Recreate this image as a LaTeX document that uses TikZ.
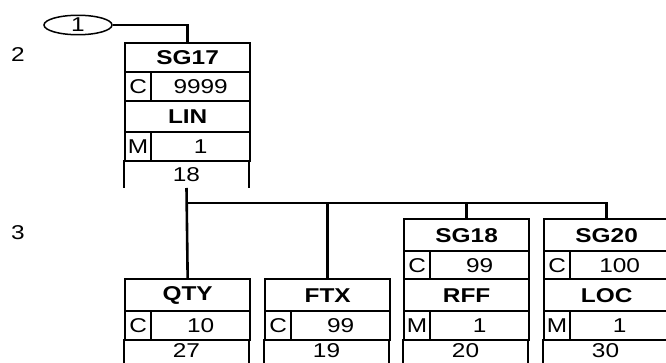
\documentclass[tikz,border=0pt]{standalone}
\usepackage{fontspec}
\setmainfont[FakeStretch=1.22]{Liberation Sans}
\usetikzlibrary{shapes.geometric}

\begin{document}
\begin{tikzpicture}[
    x=1pt,
    y=-1pt,
    font=\fontsize{20}{23}\selectfont,
    cell/.style={draw=black, line width=2.3pt, inner sep=0pt,
                 anchor=north west},
    hdr/.style={cell, minimum width=125pt, font=\fontsize{20}{23}\selectfont\bfseries},
    stat/.style={cell, minimum width=26pt},
    rep/.style={cell, minimum width=99pt},
    num/.style={inner sep=0pt},
    link/.style={draw=black, line width=2.6pt},
    side/.style={draw=black, line width=2.3pt}
]
\useasboundingbox (0,0) rectangle (666,363);
\clip (0,0) rectangle (666,363);

% Level numbers on the left
\node[num] (lvltwo) at (18,55) {2};
\node[num] (lvlthree) at (18,233) {3};

% Entry point
\node[ellipse, draw=black, line width=1.5pt, minimum width=68pt,
      minimum height=19pt, inner sep=0pt] (start) at (78,25) {1};

% Group 17 with its trigger segment
\node[hdr, minimum height=29pt] (sg17) at (124,42) {SG17};
\node[stat, minimum height=29pt] (sg17st) at (124,71) {C};
\node[rep, minimum height=29pt] (sg17rep) at (150,71) {9999};
\node[hdr, minimum height=31pt] (lin) at (124,100) {LIN};
\node[stat, minimum height=29pt] (linst) at (124,131) {M};
\node[rep, minimum height=29pt] (linrep) at (150,131) {1};
\node[num] (linnum) at (186.5,175) {18};
\draw[side] (124,160) -- (124,188);
\draw[side] (249,160) -- (249,188);
\coordinate (sg17end) at (186.5,188);

% Plain segments under the group
\foreach \x/\s/\n/\r/\p/\id in {124/QTY/C/10/27/qty, 264/FTX/C/99/19/ftx} {
    \node[hdr, minimum height=32pt] (\id) at (\x,278) {\s};
    \node[stat, minimum height=29pt] (\id st) at (\x,310) {\n};
    \node[rep, minimum height=29pt] (\id rep) at (\x+26,310) {\r};
    \node[num] (\id num) at (\x+62.5,351) {\p};
    \draw[side] (\x,339) -- (\x,370);
    \draw[side] (\x+125,339) -- (\x+125,370);
}

% Nested groups with their trigger segments
\foreach \x/\g/\gr/\s/\sr/\n/\id in {403/SG18/99/RFF/1/20/sg18, 543/SG20/100/LOC/1/30/sg20} {
    \node[hdr, minimum height=32pt] (\id) at (\x,218) {\g};
    \node[stat, minimum height=28pt] (\id st) at (\x,250) {C};
    \node[rep, minimum height=28pt] (\id rep) at (\x+26,250) {\gr};
    \node[hdr, minimum height=32pt] (\id seg) at (\x,278) {\s};
    \node[stat, minimum height=29pt] (\id segst) at (\x,310) {M};
    \node[rep, minimum height=29pt] (\id segrep) at (\x+26,310) {\sr};
    \node[num] (\id num) at (\x+62.5,351) {\n};
    \draw[side] (\x,339) -- (\x,370);
    \draw[side] (\x+125,339) -- (\x+125,370);
}

% Connectors
\draw[link] (start.east) -| (sg17.north);
\draw[link] (sg17end) -- (qty.north);
\coordinate (bus) at (186.5,203);
\foreach \t in {ftx,sg18,sg20} {
    \draw[link] (bus) -| (\t.north);
}
\end{tikzpicture}
\end{document}
